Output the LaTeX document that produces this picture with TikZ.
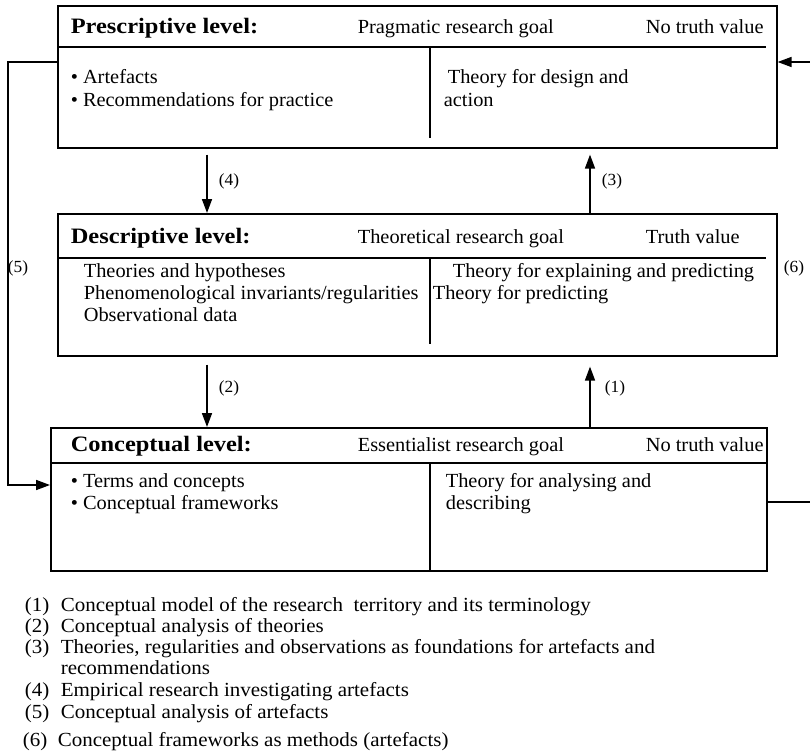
\documentclass[tikz,border=0pt]{standalone}
\usepackage{fontspec}
\setmainfont{Liberation Serif}[FakeStretch=1.02,BoldFeatures={FakeStretch=1.11}]
\newfontfamily\legendfont{Liberation Serif}[FakeStretch=1.05]
\usetikzlibrary{arrows.meta,calc}
\begin{document}
\begin{tikzpicture}[x=1pt,y=-1pt,
  line width=1.6pt,
  lvlbox/.style={draw,rectangle,inner sep=0pt,anchor=north west},
  txt/.style={anchor=base west,inner sep=0pt,font=\fontsize{20}{23}\selectfont},
  hdr/.style={txt,font=\fontsize{22}{25}\selectfont\bfseries},
  lbl/.style={inner sep=0pt,font=\fontsize{17}{19}\selectfont},
  arr/.style={-{Triangle[width=10pt,length=14pt]}},
  leg/.style={anchor=base west,inner sep=0pt,font=\legendfont\fontsize{20}{23}\selectfont}]
\useasboundingbox (0,0) rectangle (810,752);

% level boxes
\node[lvlbox,minimum width=719pt,minimum height=142pt] (pres) at (57,5) {};
\node[lvlbox,minimum width=719pt,minimum height=142pt] (desc) at (57,213) {};
\node[lvlbox,minimum width=716pt,minimum height=143pt] (conc) at (50,427) {};

% header rules and column dividers
\draw (57,47) -- (766,47);
\draw (430,47) -- (430,138);
\draw (57,258) -- (766,258);
\draw (430,258) -- (430,344);
\draw (50,463) -- (766,463);
\draw (430,463) -- (430,570);

% prescriptive level
\node[hdr] (ph) at (70,34) {Prescriptive level:};
\node[txt] (pg) at (357,34) {Pragmatic research goal};
\node[txt] (pt) at (645,34) {No truth value};
\node[txt] (pa) at (70,83) {\textbullet\ Artefacts};
\node[txt] (pr) at (70,106) {\textbullet\ Recommendations for practice};
\node[txt] (pd1) at (447,83) {Theory for design and};
\node[txt] (pd2) at (443,106) {action};

% descriptive level
\node[hdr] (dh) at (70,243) {Descriptive level:};
\node[txt] (dg) at (357,243) {Theoretical research goal};
\node[txt] (dt) at (645,243) {Truth value};
\node[txt] (d1) at (83,277) {Theories and hypotheses};
\node[txt] (d2) at (83,299) {Phenomenological invariants/regularities};
\node[txt] (d3) at (83,321) {Observational data};
\node[txt] (de1) at (452,277) {Theory for explaining and predicting};
\node[txt] (de2) at (432,299) {Theory for predicting};

% conceptual level
\node[hdr] (ch) at (70,451) {Conceptual level:};
\node[txt] (cg) at (357,451) {Essentialist research goal};
\node[txt] (ct) at (645,451) {No truth value};
\node[txt] (c1) at (70,487) {\textbullet\ Terms and concepts};
\node[txt] (c2) at (70,509) {\textbullet\ Conceptual frameworks};
\node[txt] (ce1) at (445,487) {Theory for analysing and};
\node[txt] (ce2) at (445,509) {describing};

% connector columns
\coordinate (xl) at (207,0);
\coordinate (xr) at (590,0);
\coordinate (xo) at (8,0);
\coordinate (xe) at (810,0);
\coordinate (y5) at (0,62);
\coordinate (y5b) at (0,485);
\coordinate (y6b) at (0,502);

% vertical connectors
\draw[arr] ([yshift=-6pt]pres.south -| xl) -- (desc.north -| xl);
\draw[arr] (desc.north -| xr) -- ([yshift=-6pt]pres.south -| xr);
\draw[arr] ([yshift=-8pt]desc.south -| xl) -- (conc.north -| xl);
\draw[arr] (conc.north -| xr) -- ([yshift=-10pt]desc.south -| xr);

% side connectors
\draw[arr] (pres.west |- y5) -- (xo |- y5) -- (xo |- y5b) -- (conc.west |- y5b);
\draw[arr] (xe |- y5) -- (pres.east |- y5);
\draw (conc.east |- y6b) -- (xe |- y6b);

% connector labels
\node[lbl] (l4) at (229,181) {(4)};
\node[lbl] (l3) at (612,181) {(3)};
\node[lbl] (l2) at (229,388) {(2)};
\node[lbl] (l1) at (615,388) {(1)};
\node[lbl] (l5) at (18,268) {(5)};
\node[lbl] (l6) at (794,268) {(6)};

% legend
\node[leg] (n1) at (24,611) {(1)};
\node[leg] (t1) at (60,611) {Conceptual model of the research\ \ territory and its terminology};
\node[leg] (n2) at (24,632) {(2)};
\node[leg] (t2) at (60,632) {Conceptual analysis of theories};
\node[leg] (n3) at (24,653) {(3)};
\node[leg] (t3) at (60,653) {Theories, regularities and observations as foundations for artefacts and};
\node[leg] (t3b) at (60,674) {recommendations};
\node[leg] (n4) at (24,696) {(4)};
\node[leg] (t4) at (60,696) {Empirical research investigating artefacts};
\node[leg] (n5) at (24,718) {(5)};
\node[leg] (t5) at (60,718) {Conceptual analysis of artefacts};
\node[leg] (n6) at (22,746) {(6)};
\node[leg] (t6) at (57,746) {Conceptual frameworks as methods (artefacts)};
\end{tikzpicture}
\end{document}
